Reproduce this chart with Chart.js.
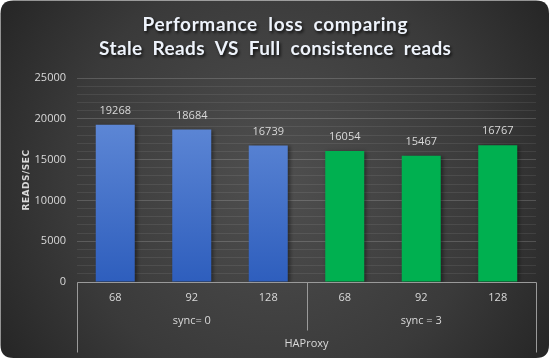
<!DOCTYPE html>
<html>
<head>
<meta charset="utf-8">
<script src="https://cdn.jsdelivr.net/npm/chart.js@4.4.1/dist/chart.umd.min.js"></script>
<style>
  html, body { margin: 0; padding: 0; background: #ffffff; }
  #c { display: block; }
</style>
</head>
<body>
<canvas id="c" width="550" height="359"></canvas>
<script>
// ---- data ----
const categories = ['68', '92', '128', '68', '92', '128'];
const groupLabels = ['sync= 0', 'sync = 3'];
const groupSizes = [3, 3];
const topGroupLabel = 'HAProxy';
const values = [19268, 18684, 16739, 16054, 15467, 16767];
const titleLines = ['Performance  loss  comparing', 'Stale  Reads  VS  Full  consistence  reads'];
const yAxisTitle = 'READS/SEC';
const yMax = 25000;
const yLabelStep = 5000;
const yGridStep = 1000;

const TEXT = '#d9d9d9';
const LINE = '#9a9a9a';

function roundRect(ctx, x, y, w, h, r) {
  ctx.beginPath();
  ctx.moveTo(x + r, y);
  ctx.lineTo(x + w - r, y);
  ctx.quadraticCurveTo(x + w, y, x + w, y + r);
  ctx.lineTo(x + w, y + h - r);
  ctx.quadraticCurveTo(x + w, y + h, x + w - r, y + h);
  ctx.lineTo(x + r, y + h);
  ctx.quadraticCurveTo(x, y + h, x, y + h - r);
  ctx.lineTo(x, y + r);
  ctx.quadraticCurveTo(x, y, x + r, y);
  ctx.closePath();
}

const bgPlugin = {
  id: 'bg',
  beforeDraw(chart) {
    const ctx = chart.ctx;
    const W = chart.width, H = chart.height;
    ctx.save();
    const g = ctx.createRadialGradient(W * 0.5, H * 0.5, 10, W * 0.5, H * 0.5, W * 0.62);
    g.addColorStop(0, '#4e4e4e');
    g.addColorStop(0.6, '#3a3a3a');
    g.addColorStop(1, '#232323');
    roundRect(ctx, 0.5, 0.5, W - 1.5, H - 1.5, 13);
    ctx.fillStyle = g;
    ctx.fill();

    // title
    ctx.textAlign = 'center';
    ctx.textBaseline = 'middle';
    ctx.font = 'bold 19px Lato';
    const targets = [265, 352];
    const ys = [25, 49];
    titleLines.forEach((t, i) => {
      ctx.letterSpacing = '0px';
      const m = ctx.measureText(t).width;
      const sp = Math.max(0, (targets[i] - m) / (t.length - 1));
      ctx.letterSpacing = sp.toFixed(2) + 'px';
      ctx.shadowColor = 'rgba(0,0,0,0.75)';
      ctx.shadowBlur = 3;
      ctx.shadowOffsetX = 1.5;
      ctx.shadowOffsetY = 1.5;
      ctx.fillStyle = '#eef3fb';
      ctx.fillText(t, W / 2 + sp / 2, ys[i]);
    });
    ctx.letterSpacing = '0px';
    ctx.shadowColor = 'transparent';

    // y-axis title
    ctx.save();
    ctx.translate(27, 180);
    ctx.rotate(-Math.PI / 2);
    ctx.font = 'bold 9px "DejaVu Sans"';
    ctx.letterSpacing = '0.5px';
    ctx.fillStyle = TEXT;
    ctx.textAlign = 'center';
    ctx.textBaseline = 'middle';
    ctx.fillText(yAxisTitle, 0, 0);
    ctx.restore();
    ctx.restore();
  },
  beforeDatasetDraw(chart) {
    const ctx = chart.ctx;
    ctx.save();
    ctx.shadowColor = 'rgba(0,0,0,0.45)';
    ctx.shadowBlur = 4;
    ctx.shadowOffsetX = 2;
    ctx.shadowOffsetY = 1;
  },
  afterDatasetDraw(chart) {
    chart.ctx.restore();
  },
  afterDraw(chart) {
    const ctx = chart.ctx;
    const xs = chart.scales.x;
    const ys = chart.scales.y;
    const area = chart.chartArea;
    const y0 = Math.round(ys.getPixelForValue(0)) + 0.5;
    ctx.save();
    // data labels
    ctx.font = '11px "Open Sans"';
    ctx.fillStyle = TEXT;
    ctx.textAlign = 'center';
    ctx.textBaseline = 'middle';
    const meta = chart.getDatasetMeta(0);
    meta.data.forEach((bar, i) => {
      ctx.fillText(String(values[i]), bar.x, bar.y - 14);
    });

    // category axis lines
    ctx.strokeStyle = LINE;
    ctx.lineWidth = 1;
    const left = Math.round(area.left) + 0.5;
    const right = Math.round(area.right) + 0.5;
    ctx.beginPath();
    ctx.moveTo(left, y0); ctx.lineTo(right, y0);
    ctx.moveTo(left, y0); ctx.lineTo(left, y0 + 70);
    ctx.moveTo(right, y0); ctx.lineTo(right, y0 + 70);
    // group separators
    let idx = 0;
    for (let g = 0; g < groupSizes.length - 1; g++) {
      idx += groupSizes[g];
      const xa = xs.getPixelForValue(idx - 1), xb = xs.getPixelForValue(idx);
      const xm = Math.round((xa + xb) / 2) + 0.5;
      ctx.moveTo(xm, y0); ctx.lineTo(xm, y0 + 48);
    }
    ctx.stroke();

    // level 1 labels
    ctx.font = '11px "Open Sans"';
    ctx.fillStyle = TEXT;
    categories.forEach((c, i) => {
      ctx.fillText(c, xs.getPixelForValue(i), y0 + 15);
    });
    // level 2 labels
    let start = 0;
    groupLabels.forEach((gl, g) => {
      const a = xs.getPixelForValue(start), b = xs.getPixelForValue(start + groupSizes[g] - 1);
      ctx.fillText(gl, (a + b) / 2, y0 + 38);
      start += groupSizes[g];
    });
    // level 3
    ctx.fillText(topGroupLabel, (area.left + area.right) / 2, y0 + 61);
    ctx.restore();
  }
};

const ctx = document.getElementById('c').getContext('2d');
new Chart(ctx, {
  type: 'bar',
  data: {
    labels: categories,
    datasets: [{
      label: 'READS/SEC',
      data: values,
      backgroundColor: (c) => {
        if (c.dataIndex >= groupSizes[0]) return '#00b050';
        const area = c.chart.chartArea;
        if (!area) return '#4472c4';
        const g = c.chart.ctx.createLinearGradient(0, area.top, 0, area.bottom);
        g.addColorStop(0, '#6a92dc');
        g.addColorStop(1, '#2e5ebd');
        return g;
      },
      borderWidth: 0,
      barPercentage: 0.51,
      categoryPercentage: 1.0
    }]
  },
  options: {
    responsive: false,
    animation: false,
    layout: { padding: { top: 78, right: 14, left: 0, bottom: 0 } },
    plugins: {
      legend: { display: false },
      title: { display: false },
      tooltip: { enabled: false }
    },
    scales: {
      x: {
        grid: { display: false },
        border: { display: false },
        ticks: { display: false },
        afterFit(s) { s.height = 77; }
      },
      y: {
        min: 0,
        max: yMax,
        afterFit(s) { s.width = 77; },
        border: { display: false },
        grid: {
          drawTicks: false,
          color: (c) => (c.tick && c.tick.value % yLabelStep === 0) ? 'rgba(255,255,255,0.17)' : 'rgba(255,255,255,0.08)',
          lineWidth: 1
        },
        ticks: {
          stepSize: yGridStep,
          autoSkip: false,
          padding: 11,
          color: TEXT,
          font: { family: '"Open Sans"', size: 11 },
          callback: (v) => (v % yLabelStep === 0 ? String(v) : '')
        }
      }
    }
  },
  plugins: [bgPlugin]
});
</script>
</body>
</html>
